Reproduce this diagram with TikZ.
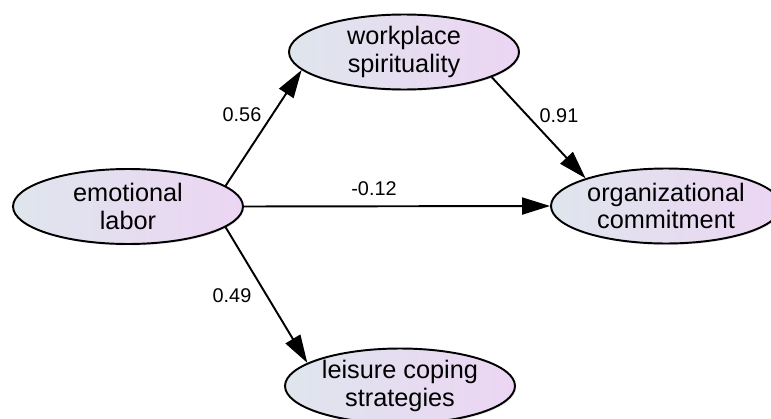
\documentclass[tikz,border=0pt]{standalone}
\usepackage{fontspec}
\setmainfont{Liberation Sans}
\usepackage{tikz}
\usetikzlibrary{arrows.meta}
\usetikzlibrary{shapes.geometric}
\usetikzlibrary{shadows}
\definecolor{fillleft}{RGB}{223,229,237}
\definecolor{fillright}{RGB}{236,213,243}
\tikzset{
    construct/.style={
        ellipse,
        draw=black,
        line width=1.1pt,
        left color=fillleft,
        right color=fillright,
        minimum width=4.6cm,
        minimum height=1.5cm,
        inner sep=0pt,
        align=center,
        font=\fontsize{14.4}{15.6}\selectfont,
        drop shadow={shadow xshift=0.6pt,shadow yshift=-0.8pt,opacity=0.25}
    },
    effect/.style={
        draw,
        line width=1.1pt,
        -{Triangle[length=0.56cm,width=0.34cm]}
    },
    coef/.style={
        font=\fontsize{11.3}{13}\selectfont,
        inner sep=0pt
    }
}

\begin{document}
\begin{tikzpicture}[x=0.02cm,y=-0.02cm]
        \useasboundingbox (0,0) rectangle (771,419);
        \clip (0,0) rectangle (771,419);
        \node[construct] (emotion) at (128,206.5) {emotional\\labor};
        \node[construct] (spirit) at (404,52) {workplace\\spirituality};
        \node[construct] (commit) at (666,206) {organizational\\commitment};
        \node[construct] (leisure) at (400,386) {leisure coping\\strategies};
        \path (emotion.12) edge[effect] (spirit.190);
        \path (spirit.-16) edge[effect] (commit.161);
        \path (emotion.east) edge[effect] (commit.west);
        \path (emotion.-12) edge[effect] (leisure.166);

        \node[coef] (c056) at (242,115) {0.56};
        \node[coef] (c091) at (559,116) {0.91};
        \node[coef] (c012) at (374,189) {-0.12};
        \node[coef] (c049) at (232,296) {0.49};
    \end{tikzpicture}
\end{document}
